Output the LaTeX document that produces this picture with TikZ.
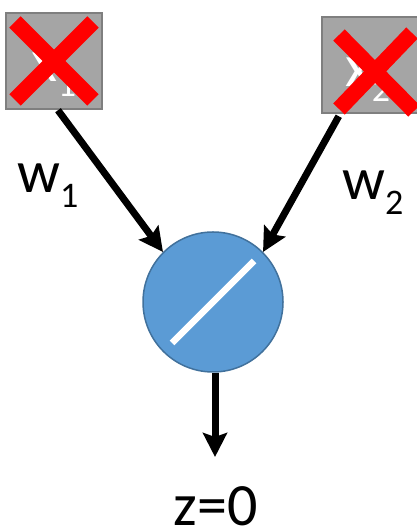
\documentclass[tikz,border=0pt]{standalone}
\usepackage{fontspec}
\setmainfont{Carlito}
\usetikzlibrary{arrows.meta,calc}
\definecolor{boxfill}{HTML}{A5A5A5}
\definecolor{boxline}{HTML}{7F7F7F}
\definecolor{nfill}{HTML}{5B9BD5}
\definecolor{nline}{HTML}{41719C}
\definecolor{xred}{HTML}{FF0000}
\newcommand{\bigtxt}{\fontsize{60bp}{60bp}\selectfont}
\newcommand{\subtxt}[1]{\raisebox{-15bp}{\fontsize{36bp}{36bp}\selectfont #1}}
\begin{document}
\begin{tikzpicture}[x=1bp,y=1bp,
  inbox/.style={draw=boxline, fill=boxfill, line width=2.5bp, minimum width=96bp, minimum height=96bp, inner sep=0, text=white, font=\bigtxt},
  neuron/.style={circle, draw=nline, fill=nfill, line width=1.5bp, minimum size=140bp, inner sep=0},
  conn/.style={line width=7bp, -{Stealth[length=24bp, width=24bp, inset=4bp]}},
  cross/.style={xred, line width=16bp},
  lbl/.style={inner sep=0, font=\bigtxt}]
\useasboundingbox (0,0) rectangle (416,532);
% neuron
\node[neuron] (circ) at (213,230) {};
\draw[white, line width=6.5bp] ($(circ.center)+(-41,-41)$) -- ($(circ.center)+(41,41)$);
% boxes
\node[inbox] (box1) at (54,471) {};
\node[inbox] (box2) at (370,467) {};
% arrows
\coordinate (s1) at ($(box1.south)+(4,0)$);
\coordinate (s2) at ($(box2.south west)+(18,-2)$);
\coordinate (zend) at (215,75);
\draw[conn] (s1) -- (circ.135);
\draw[conn] (s2) -- (circ.45);
\draw[conn] (circ.south -| zend) -- (zend);
% box texts
\node[lbl, text=white, anchor=base] (t1) at ($(box1.center)+(0,-21)$) {x\subtxt{1}};
\node[lbl, text=white, anchor=base] (t2) at ($(box2.center)+(-2,-22)$) {x\subtxt{2}};
% red crosses
\coordinate (c1) at (54,471);
\coordinate (c2) at (376,460);
\draw[cross] ($(c1)+(-39,39)$) -- ($(c1)+(39,-39)$);
\draw[cross] ($(c1)+(39,39)$) -- ($(c1)+(-39,-39)$);
\draw[cross] ($(c2)+(-37,37)$) -- ($(c2)+(38,-39)$);
\draw[cross] ($(c2)+(36,39)$) -- ($(c2)+(-37,-37)$);
% labels
\node[lbl, anchor=base west] (w1) at (17,339) {w\subtxt{1}};
\node[lbl, anchor=base west] (w2) at (342,332) {w\subtxt{2}};
\node[lbl, anchor=base, text depth=0pt] (z) at (215.5,6) {z=0};
\end{tikzpicture}
\end{document}
